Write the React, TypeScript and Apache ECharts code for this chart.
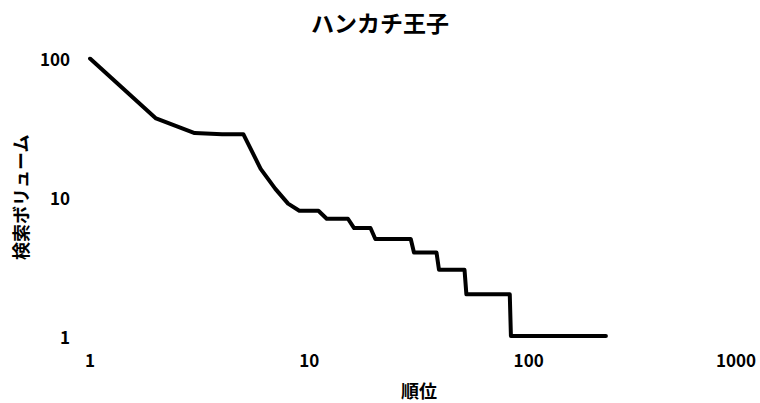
import React, { useEffect, useRef } from "react";
import * as echarts from "echarts";

// Breakpoints of the rank / search-volume curve
const ranks = [1, 2, 3, 4, 5, 6, 7, 8, 9, 11, 12, 15, 16, 19, 20, 29, 30, 38, 39, 51, 52, 82, 83, 225];
const volumes = [100, 37, 29, 28.5, 28.5, 16, 11.5, 9, 8, 8, 7, 7, 6, 6, 5, 5, 4, 4, 3, 3, 2, 2, 1, 1];

const xTicks = [1, 10, 100, 1000];
const yTicks = [1, 10, 100];

const titleText = "ハンカチ王子";
const xName = "順位";
const yName = "検索ボリューム";

const FONT = '"Noto Sans CJK JP", "Noto Sans", sans-serif';

export default function App() {
  const ref = useRef<HTMLDivElement>(null);
  useEffect(() => {
    if (!ref.current) return;
    document.body.style.margin = "0";
    const chart = echarts.init(ref.current, null, { renderer: "svg" });
    const xMax = xTicks[xTicks.length - 1];
    chart.setOption({
      animation: false,
      backgroundColor: "#ffffff",
      title: {
        text: titleText,
        left: "center",
        top: 5,
        textStyle: { fontFamily: FONT, fontSize: 23, fontWeight: "bold", color: "#000" },
      },
      grid: {
        left: 90,
        right: 12,
        top: 58.5,
        height: 277.5,
        containLabel: false,
        outerBoundsMode: "none",
      },
      xAxis: {
        type: "log",
        logBase: 10,
        min: xTicks[0],
        max: xMax,
        name: xName,
        nameLocation: "middle",
        nameGap: 45,
        nameTextStyle: { fontFamily: FONT, fontSize: 18, fontWeight: "bold", color: "#000" },
        axisLine: { show: false },
        axisTick: { show: false },
        splitLine: { show: false },
        axisLabel: {
          margin: 15,
          fontFamily: FONT,
          fontSize: 17,
          fontWeight: "bold",
          color: "#000",
          formatter: (v: number) => {
            const s = String(Math.round(v));
            return Math.round(v) === xMax ? "{last|" + s + "}" : s;
          },
          rich: {
            last: {
              fontFamily: FONT,
              fontSize: 17,
              fontWeight: "bold",
              color: "#000",
              padding: [0, 24, 0, 0],
            },
          },
        },
      },
      yAxis: {
        type: "log",
        logBase: 10,
        min: yTicks[0],
        max: yTicks[yTicks.length - 1],
        name: yName,
        nameLocation: "middle",
        nameGap: 61,
        nameRotate: 90,
        nameTextStyle: { fontFamily: FONT, fontSize: 18, fontWeight: "bold", color: "#000" },
        axisLine: { show: false },
        axisTick: { show: false },
        splitLine: { show: false },
        axisLabel: {
          margin: 20,
          fontFamily: FONT,
          fontSize: 17,
          fontWeight: "bold",
          color: "#000",
          formatter: (v: number) => String(Math.round(v)),
        },
      },
      series: [
        {
          type: "line",
          data: ranks.map((r, i) => [r, volumes[i]]),
          showSymbol: false,
          lineStyle: { color: "#000", width: 4, cap: "round", join: "round" },
        },
      ],
    });
    return () => chart.dispose();
  }, []);
  return <div ref={ref} style={{ width: 760, height: 403 }} />;
}
